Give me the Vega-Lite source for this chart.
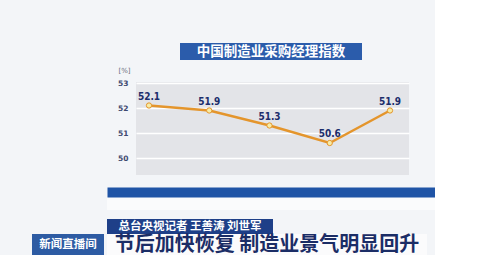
{
  "$schema": "https://vega.github.io/schema/vega-lite/v6.json",
  "background": "#f3f5f8",
  "padding": {"left": 32, "top": 43, "right": 0, "bottom": 0},
  "spacing": 0,
  "config": {
    "view": {"stroke": null},
    "font": "Noto Sans CJK SC",
    "concat": {"spacing": 0}
  },
  "datasets": {
    "pmi": [
      {"month": "11月", "value": 52.1},
      {"month": "12月", "value": 51.9},
      {"month": "( 2021 ) 1月", "value": 51.3},
      {"month": "2月", "value": 50.6},
      {"month": "3月", "value": 51.9}
    ],
    "heading": [{"text": "中国制造业采购经理指数"}],
    "reporter": [{"text": "总台央视记者 王善涛 刘世军"}],
    "program": [{"text": "新闻直播间"}],
    "headline": [{"text": "节后加快恢复 制造业景气明显回升"}],
    "blank": []
  },
  "vconcat": [
    {
      "spacing": 0,
      "hconcat": [
        {"width": 148, "height": 17, "data": {"name": "blank"}, "mark": {"type": "text", "text": ""}},
        {
          "width": 182, "height": 17,
          "view": {"fill": "#2b5cab"},
          "data": {"name": "heading"},
          "mark": {"type": "text", "color": "#ffffff", "fontSize": 13.5, "fontWeight": "bold"},
          "encoding": {"text": {"field": "text"}}
        }
      ]
    },
    {"width": 10, "height": 6, "data": {"name": "blank"}, "mark": {"type": "text", "text": ""}},
    {
      "spacing": 0,
      "hconcat": [
        {"width": 85, "height": 20, "data": {"name": "blank"}, "mark": {"type": "text", "text": ""}},
        {
          "width": 273, "height": 93,
          "view": {"fill": "#e3e4e8"},
          "data": {"name": "pmi"},
          "encoding": {
            "x": {"field": "month", "type": "ordinal", "sort": null,
                  "scale": {"type": "point", "padding": 0.2656, "align": 0.406},
                  "axis": null},
            "y": {"field": "value", "type": "quantitative",
                  "scale": {"domain": [49.32, 53.04], "nice": false, "zero": false},
                  "axis": {"values": [50, 51, 52, 53], "grid": true, "gridColor": "#ffffff", "gridWidth": 1.5,
                           "domain": false, "ticks": false, "labelPadding": 8, "labelFontSize": 7.5,
                           "labelFont": "DejaVu Sans", "labelColor": "#3e4a70", "labelFontWeight": "bold",
                           "title": "[%]", "titleAngle": 0, "titleX": -12, "titleY": -12,
                           "titleAlign": "center", "titleBaseline": "middle", "titleFontSize": 7,
                           "titleFontWeight": "normal", "titleColor": "#6b6f7c", "titleFont": "DejaVu Sans"}}
          },
          "layer": [
            {"mark": {"type": "line", "color": "#e4952c", "strokeWidth": 2.5}},
            {"mark": {"type": "point", "filled": true, "fill": "#f7eca6", "stroke": "#e4952c", "strokeWidth": 1, "size": 28, "opacity": 1}},
            {"mark": {"type": "text", "dy": -9, "fontSize": 10, "fontWeight": "bold", "color": "#1c2d6b", "font": "DejaVu Sans Condensed"},
             "encoding": {"text": {"field": "value", "type": "quantitative", "format": ".1f"}}}
          ]
        }
      ]
    },
    {"width": 10, "height": 13, "data": {"name": "blank"}, "mark": {"type": "text", "text": ""}},
    {
      "spacing": 0,
      "hconcat": [
        {"width": 75, "height": 13, "data": {"name": "blank"}, "mark": {"type": "text", "text": ""}},
        {
          "width": 328, "height": 13,
          "view": {"fill": "#fafbfc"},
          "data": {"name": "pmi"},
          "mark": {"type": "point", "opacity": 0},
          "encoding": {
            "x": {"field": "month", "type": "ordinal", "sort": null,
                  "scale": {"type": "point", "padding": 0.722, "align": 0.471},
                  "axis": {"orient": "top", "title": null, "offset": 5, "domainColor": "#1f54a6", "domainWidth": 10,
                           "ticks": false, "labelAngle": 0, "labelPadding": 0, "labelBaseline": "middle",
                           "labelColor": "#ffffff", "labelFontSize": 7}}
          }
        }
      ]
    },
    {"width": 10, "height": 9, "data": {"name": "blank"}, "mark": {"type": "text", "text": ""}},
    {
      "spacing": 0,
      "hconcat": [
        {"width": 75, "height": 15, "data": {"name": "blank"}, "mark": {"type": "text", "text": ""}},
        {
          "width": 166, "height": 15,
          "view": {"fill": "#1e3f88"},
          "data": {"name": "reporter"},
          "mark": {"type": "text", "color": "#ffffff", "fontSize": 11.5, "fontWeight": "bold"},
          "encoding": {"text": {"field": "text"}}
        }
      ]
    },
    {
      "spacing": 0,
      "hconcat": [
        {
          "width": 72, "height": 22,
          "view": {"fill": "#2d5ba3"},
          "data": {"name": "program"},
          "mark": {"type": "text", "color": "#ffffff", "fontSize": 11.5, "fontWeight": "bold"},
          "encoding": {"text": {"field": "text"}}
        },
        {"width": 3, "height": 22, "data": {"name": "blank"}, "mark": {"type": "text", "text": ""}},
        {
          "width": 320, "height": 22,
          "view": {"fill": "#fbfbfc"},
          "data": {"name": "headline"},
          "mark": {"type": "text", "color": "#1b2d66", "fontSize": 20, "fontWeight": "bold"},
          "encoding": {"text": {"field": "text"}}
        }
      ]
    }
  ]
}
